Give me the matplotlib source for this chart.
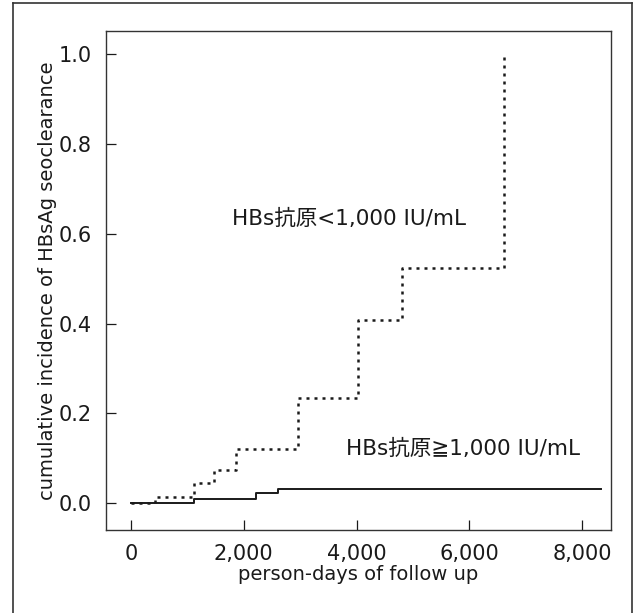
import matplotlib
matplotlib.use('Agg')
import matplotlib.pyplot as plt
from matplotlib.lines import Line2D

# latin text in DejaVu, CJK glyphs fall back to Noto
plt.rcParams['font.family'] = ['DejaVu Sans', 'Noto Sans CJK JP']

# step points (person-days, cumulative incidence)
lowDays = [0, 420, 1117, 1473, 1865, 2953, 4028, 4811, 6605]
lowInc = [0.0, 0.014, 0.045, 0.075, 0.121, 0.235, 0.408, 0.523, 1.0]

highDays = [0, 1117, 2220, 2598, 8333]
highInc = [0.0, 0.010, 0.0235, 0.032, 0.031]

xTicks = [0, 2000, 4000, 6000, 8000]
xTickLabels = ['0', '2,000', '4,000', '6,000', '8,000']
yTicks = [0.0, 0.2, 0.4, 0.6, 0.8, 1.0]
yTickLabels = ['0.0', '0.2', '0.4', '0.6', '0.8', '1.0']

labelLow = 'HBs抗原<1,000 IU/mL'
labelHigh = 'HBs抗原≧1,000 IU/mL'

ink = '#1a1a1a'

fig = plt.figure(figsize=(6.41, 6.13), dpi=100)
ax = fig.add_axes([106/641, 1 - 530/613, (611-106)/641, (530-31)/613])

# outer frame round the whole figure (bottom edge runs off the page)
top = 1 - 3/613
for xs, ys in [([13/641, 13/641], [0, top]),
               ([13/641, 632/641], [top, top]),
               ([632/641, 632/641], [0, top])]:
    fig.add_artist(Line2D(xs, ys, transform=fig.transFigure, color='#333333', lw=1.2))

# dotted curve ends with the vertical rise to 1.0
ax.step(lowDays, lowInc, where='post',
        color=ink, lw=1.8, linestyle=(0, (1.2, 2.0)))
ax.step(highDays, highInc, where='post', color=ink, lw=1.4)

ax.set_xlim(-443, 8511)
ax.set_ylim(-0.0595, 1.051)
ax.set_xticks(xTicks)
ax.set_xticklabels(xTickLabels)
ax.set_yticks(yTicks)
ax.set_yticklabels(yTickLabels)
ax.tick_params(direction='in', length=7, width=0.9, labelsize=15, colors=ink)
ax.tick_params(axis='y', pad=10)
ax.tick_params(axis='x', pad=10)
for s in ax.spines.values():
    s.set_color('#333333')
    s.set_linewidth(1.0)

ax.set_xlabel('person-days of follow up', fontsize=14, color=ink, labelpad=1)
ax.set_ylabel('cumulative incidence of HBsAg seoclearance', fontsize=14, color=ink, labelpad=1)

ax.text(1785, 0.632, labelLow, fontsize=15.5, color=ink, va='center', ha='left')
ax.text(3812, 0.121, labelHigh, fontsize=15.5, color=ink, va='center', ha='left')

fig.savefig('out.png', dpi=100)
